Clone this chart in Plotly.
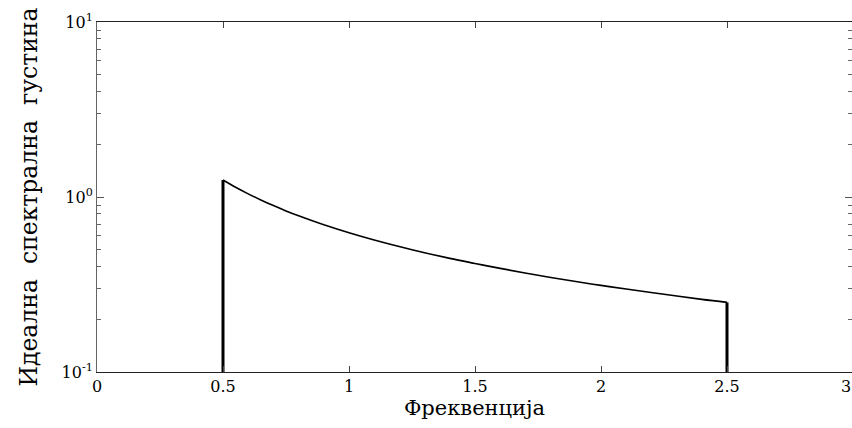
import plotly.graph_objects as go

# Data
freq = [0.5, 0.55, 0.6, 0.65, 0.7, 0.75, 0.8, 0.9, 1.0, 1.1, 1.25, 1.4, 1.5, 1.6, 1.75, 1.9, 2.0, 2.1, 2.25, 2.4, 2.5]
density = [1.25, 1.136, 1.042, 0.962, 0.893, 0.833, 0.781, 0.694, 0.625, 0.568, 0.50, 0.446,
           0.417, 0.391, 0.357, 0.329, 0.3125, 0.298, 0.278, 0.260, 0.25]
edge_x_left = [0.5, 0.5]
edge_y_left = [0.1, 1.25]
edge_x_right = [2.5, 2.5]
edge_y_right = [0.25, 0.1]

x_ticks = [0, 0.5, 1, 1.5, 2, 2.5, 3]
x_ticktext = ["0", "0.5", "1", "1.5", "2", "2.5", "3"]
y_ticks = [0.1, 1, 10]
y_ticktext = ["10<sup>-1</sup>", "10<sup>0</sup>", "10<sup>1</sup>"]

FONT = "DejaVu Serif"

fig = go.Figure()
fig.add_trace(go.Scatter(x=freq, y=density, mode="lines",
                         line=dict(color="black", width=1.6, shape="spline"), showlegend=False))
fig.add_trace(go.Scatter(x=edge_x_left, y=edge_y_left, mode="lines",
                         line=dict(color="black", width=3), showlegend=False))
fig.add_trace(go.Scatter(x=edge_x_right, y=edge_y_right, mode="lines",
                         line=dict(color="black", width=3), showlegend=False))

xmax = 3 * 755 / 756
fig.update_layout(
    width=852, height=428,
    margin=dict(l=97, r=0, t=22, b=56),
    plot_bgcolor="white", paper_bgcolor="white",
    font=dict(family=FONT, color="black", size=16),
    xaxis=dict(range=[0, xmax], tickvals=x_ticks[:-1], ticktext=x_ticktext[:-1],
               ticks="inside", ticklen=6, tickcolor="#444", tickwidth=1, showgrid=False,
               zeroline=False, showline=True, linecolor="#222", linewidth=1,
               mirror="ticks",
               title=dict(text="Фреквенција", font=dict(size=21, family=FONT), standoff=2),
               tickfont=dict(size=16, family=FONT)),
    yaxis=dict(type="log", range=[-1, 1], tickvals=y_ticks, ticktext=y_ticktext,
               ticks="inside", ticklen=7, tickcolor="#555", tickwidth=1, showgrid=False,
               zeroline=False, showline=True, linecolor="#666", linewidth=1,
               mirror="ticks",
               minor=dict(dtick="D1", ticks="inside", ticklen=4, tickcolor="#666", tickwidth=1, showgrid=False),
               title=dict(text="Идеална  спектрална  густина", font=dict(size=23.5, family=FONT), standoff=17),
               tickfont=dict(size=16, family=FONT)),
)
fig.add_annotation(x=3 / xmax, y=0, xref="paper", yref="paper", yanchor="top", yshift=-3,
                   text=x_ticktext[-1], showarrow=False, font=dict(size=16, family=FONT))
fig.write_html("out.html")
